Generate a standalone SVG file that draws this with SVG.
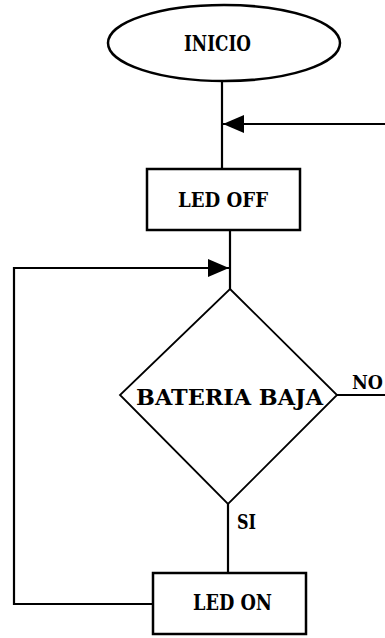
<svg xmlns="http://www.w3.org/2000/svg" width="385" height="638" viewBox="0 0 385 638">
<style>
  .shape{fill:#fff;stroke:#000;stroke-width:2.5}
  .dia{fill:#fff;stroke:#000;stroke-width:1.8}
  .line{fill:none;stroke:#000;stroke-width:2.2}
  .t{font-family:"DejaVu Serif","Liberation Serif",serif;font-weight:bold;fill:#000}
</style>
<defs>
  <marker id="ah" markerWidth="22" markerHeight="18" refX="21" refY="9" orient="auto" markerUnits="userSpaceOnUse">
    <path d="M0,0 L21,9 L0,18 Z" fill="#000"/>
  </marker>
</defs>
<rect width="385" height="638" fill="#fff"/>
<g id="connectors">
  <line class="line" x1="222" y1="81" x2="222" y2="169"/>
  <line class="line" x1="385" y1="124" x2="223" y2="124" marker-end="url(#ah)"/>
  <line class="line" x1="230" y1="230" x2="230" y2="289"/>
  <polyline class="line" points="153,604 14,604 14,268 229,268" marker-end="url(#ah)"/>
  <line class="line" x1="336" y1="395" x2="385" y2="395"/>
  <line class="line" x1="228" y1="504" x2="228" y2="573"/>
  <text class="t" x="352" y="389" font-size="18" textLength="31" lengthAdjust="spacingAndGlyphs">NO</text>
  <text class="t" x="237" y="529" font-size="20" textLength="19" lengthAdjust="spacingAndGlyphs">SI</text>
</g>
<g id="inicio">
  <ellipse class="shape" cx="224" cy="43" rx="116" ry="38"/>
  <text class="t" x="184" y="51" font-size="22" textLength="67" lengthAdjust="spacingAndGlyphs">INICIO</text>
</g>
<g id="led_off">
  <rect class="shape" x="147" y="169" width="153" height="61"/>
  <text class="t" x="178" y="207" font-size="21" textLength="90" lengthAdjust="spacingAndGlyphs">LED OFF</text>
</g>
<g id="bateria_baja">
  <polygon class="dia" points="230,289 337,395 228,504 120,395"/>
  <text class="t" x="136" y="405" font-size="23" textLength="187" lengthAdjust="spacingAndGlyphs">BATERIA  BAJA</text>
</g>
<g id="led_on">
  <rect class="shape" x="153" y="573" width="153" height="61"/>
  <text class="t" x="193" y="610" font-size="22" textLength="79" lengthAdjust="spacingAndGlyphs">LED ON</text>
</g>
</svg>
